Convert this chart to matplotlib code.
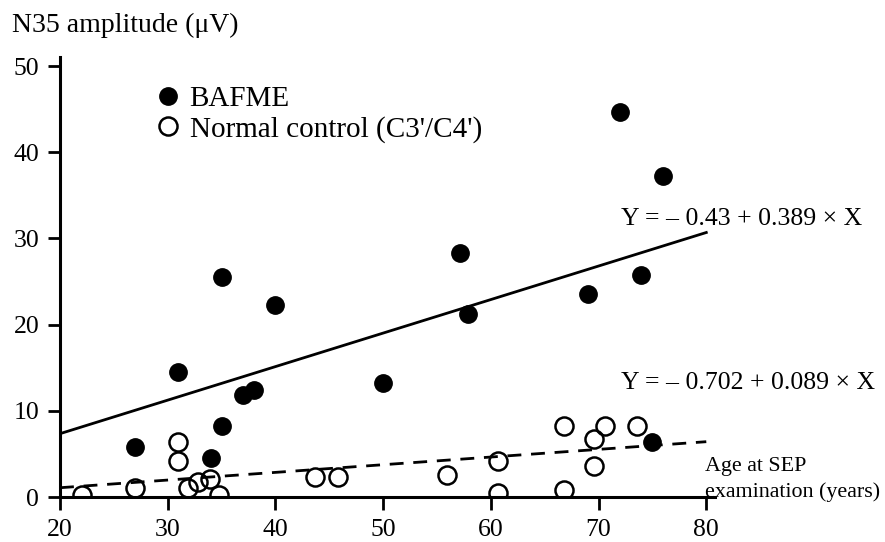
import numpy as np
import matplotlib
matplotlib.use("Agg")
import matplotlib.pyplot as plt

plt.rcParams['font.family'] = ['Liberation Serif', 'DejaVu Serif']

# BAFME (filled circles)
bafme_age = [27, 31, 35, 34, 35, 37, 38, 40, 50, 57.1, 57.9, 69, 72, 73.9, 76, 75]
bafme_amp = [5.8, 14.5, 25.5, 4.5, 8.2, 11.8, 12.4, 22.3, 13.2, 28.3, 21.2, 23.5, 44.7, 25.8, 37.2, 6.4]

# normal control (open circles)
ctrl_age = [22, 27, 31, 31, 31.9, 32.8, 33.9, 34.8, 43.7, 45.8, 55.9,
            60.7, 60.7, 66.8, 66.8, 69.6, 69.6, 70.6, 73.6]
ctrl_amp = [0.2, 1.0, 6.4, 4.2, 1.0, 1.8, 2.1, 0.2, 2.3, 2.3, 2.5,
            4.2, 0.5, 0.8, 8.2, 6.7, 3.6, 8.2, 8.2]

# regression coefficients (intercept, slope)
bafme_fit = (-0.43, 0.389)
ctrl_fit = (-0.702, 0.089)
fit_x = np.array([20, 80])

fig = plt.figure(figsize=(8.85, 5.42), dpi=100)
ax = fig.add_axes([0.0678, 0.083, 0.74, 0.811])

ax.plot(fit_x, bafme_fit[0] + bafme_fit[1] * fit_x, color='black', lw=2, zorder=1)
ax.plot(fit_x, ctrl_fit[0] + ctrl_fit[1] * fit_x, color='black', lw=2,
        ls=(0, (5, 3.5)), zorder=1)

ax.plot(bafme_age, bafme_amp, 'o', color='black', ms=12.5, ls='none',
        label='BAFME', zorder=3)
ax.plot(ctrl_age, ctrl_amp, 'o', mfc='none', mec='black', mew=1.8, ms=13, ls='none',
        label="Normal control (C3'/C4')", zorder=2)

ax.set_xlim(20, 80.8)
ax.set_ylim(0, 51)
ax.set_xticks([20, 30, 40, 50, 60, 70, 80])
ax.set_yticks([0, 10, 20, 30, 40, 50])
ax.tick_params(axis='both', labelsize=18.5, width=2, length=9, direction='out')
ax.tick_params(axis='x', pad=7)
ax.tick_params(axis='y', pad=6)
for s in ['top', 'right']:
    ax.spines[s].set_visible(False)
for s in ['left', 'bottom']:
    ax.spines[s].set_linewidth(2.2)

ax.text(72.1, 32.2, 'Y = \u2013 0.43 + 0.389 \u00d7 X', fontsize=18.5, va='center', ha='left')
ax.text(72.1, 13.2, 'Y = \u2013 0.702 + 0.089 \u00d7 X', fontsize=18.5, va='center', ha='left')
ax.text(79.9, 2.0, 'Age at SEP\nexamination (years)', fontsize=15.8, va='center', ha='left',
        linespacing=1.4, clip_on=False)

fig.text(0.0136, 0.954, 'N35 amplitude (\u03bcV)', fontsize=20, va='center', ha='left')

ax.legend(loc='upper left', bbox_to_anchor=(156 / 885, 1 - 86 / 542),
          bbox_transform=fig.transFigure, frameon=False, fontsize=21,
          handlelength=0.8, handletextpad=0.35, labelspacing=0.12, borderpad=0,
          borderaxespad=0)

fig.savefig('out.png', dpi=100)
